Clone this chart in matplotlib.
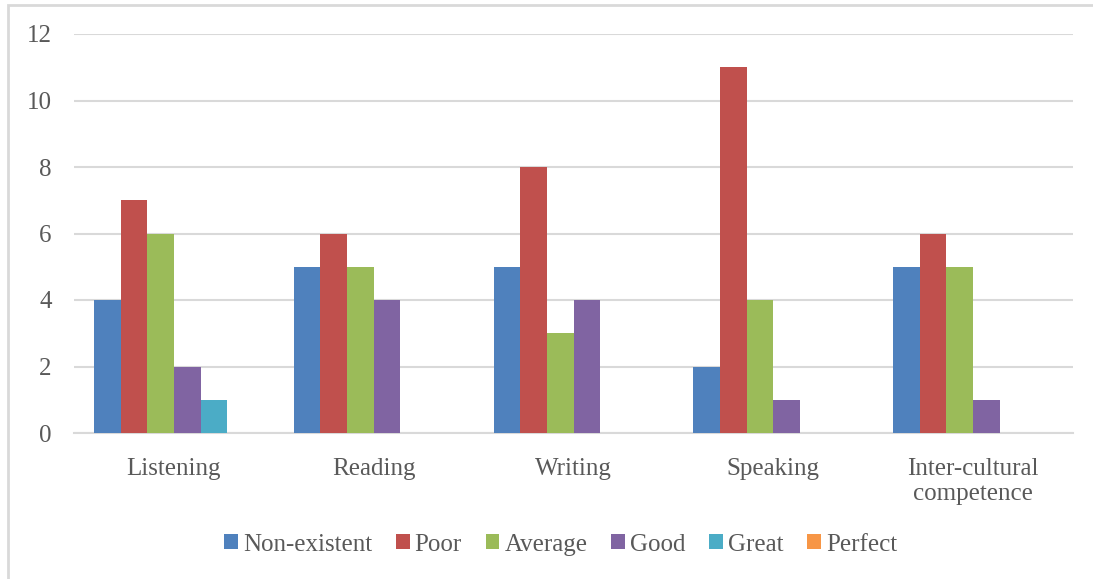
import matplotlib.pyplot as plt
import numpy as np
from matplotlib.patches import Rectangle

categories = ['Listening', 'Reading', 'Writing', 'Speaking', 'Inter-cultural\ncompetence']
series = ['Non-existent', 'Poor', 'Average', 'Good', 'Great', 'Perfect']
colors = ['#4F81BD', '#C0504D', '#9BBB59', '#8064A2', '#4BACC6', '#F79646']

non_existent = [4, 5, 5, 2, 5]
poor = [7, 6, 8, 11, 6]
average = [6, 5, 3, 4, 5]
good = [2, 4, 4, 1, 1]
great = [1, 0, 0, 0, 0]
perfect = [0, 0, 0, 0, 0]
values = [non_existent, poor, average, good, great, perfect]

plt.rcParams['font.family'] = ['Liberation Serif', 'DejaVu Serif']
text_color = '#595959'

fig = plt.figure(figsize=(10.93, 5.79), dpi=100)
ax = fig.add_axes([74 / 1093, 1 - 433 / 579, 999 / 1093, 399 / 579])

# chart border (runs off the right and bottom edges like the source)
fig.patches.append(Rectangle((8 / 1093, -0.05), 1.1, 1 - 5 / 579 + 0.05,
                             transform=fig.transFigure, fill=False,
                             edgecolor='#D9D9D9', linewidth=2))

x = np.arange(len(categories))
width = 0.8 / len(series)
for i, (name, vals) in enumerate(zip(series, values)):
    ax.bar(x - 0.4 + width * (i + 0.5), vals, width, color=colors[i], label=name, zorder=3)

ax.set_xlim(-0.5, len(categories) - 0.5)
ax.set_ylim(0, 12)
ax.set_yticks(range(0, 13, 2))
ax.set_xticks(x)
ax.set_xticklabels(categories, linespacing=1.15)
ax.grid(axis='y', color='#D9D9D9', linewidth=1.5, zorder=0)
ax.tick_params(axis='both', length=0, labelsize=18, colors=text_color)
ax.tick_params(axis='y', pad=16)
ax.tick_params(axis='x', pad=18)
for side in ['left', 'right', 'top']:
    ax.spines[side].set_visible(False)
ax.spines['bottom'].set_color('#D9D9D9')
ax.spines['bottom'].set_linewidth(1.5)

leg = ax.legend(loc='center', bbox_to_anchor=(0.5 - 0.013, -0.28), ncol=6, frameon=False,
                fontsize=18, handlelength=0.55, handleheight=0.55, handletextpad=0.2,
                columnspacing=0.95)
for t in leg.get_texts():
    t.set_color(text_color)

fig.savefig('out.png', dpi=100)
